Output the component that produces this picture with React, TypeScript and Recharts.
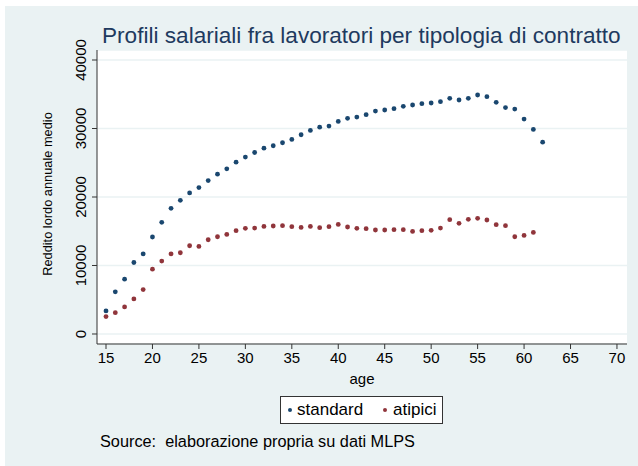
import {ScatterChart, Scatter, XAxis, YAxis, CartesianGrid, Label} from 'recharts';

const standardAges = [15, 16, 17, 18, 19, 20, 21, 22, 23, 24, 25, 26, 27, 28, 29, 30, 31, 32, 33, 34, 35, 36, 37, 38, 39, 40, 41, 42, 43, 44, 45, 46, 47, 48, 49, 50, 51, 52, 53, 54, 55, 56, 57, 58, 59, 60, 61, 62];
const standardIncome = [3370, 6150, 8000, 10440, 11700, 14160, 16300, 18350, 19520, 20600, 21380, 22400, 23330, 24110, 25090, 25830, 26500, 27130, 27480, 27920, 28400, 29090, 29720, 30200, 30350, 31040, 31480, 31670, 32020, 32550, 32700, 32900, 33240, 33430, 33630, 33720, 33920, 34410, 34160, 34410, 34890, 34650, 33820, 33050, 32840, 31380, 29870, 28010];

const atipiciAges = [15, 16, 17, 18, 19, 20, 21, 22, 23, 24, 25, 26, 27, 28, 29, 30, 31, 32, 33, 34, 35, 36, 37, 38, 39, 40, 41, 42, 43, 44, 45, 46, 47, 48, 49, 50, 51, 52, 53, 54, 55, 56, 57, 58, 59, 60, 61];
const atipiciIncome = [2540, 3120, 3950, 5120, 6490, 9470, 10640, 11710, 11860, 12880, 12780, 13760, 14200, 14540, 15080, 15420, 15470, 15710, 15770, 15810, 15670, 15560, 15710, 15520, 15670, 16000, 15620, 15420, 15370, 15180, 15180, 15230, 15230, 14980, 15080, 15130, 15470, 16690, 16150, 16740, 16890, 16640, 15960, 15810, 14200, 14390, 14830];

const xTicks = [15, 20, 25, 30, 35, 40, 45, 50, 55, 60, 65, 70];
const yTicks = [0, 10000, 20000, 30000, 40000];

const standardData = standardAges.map((age, i) => ({age, income: standardIncome[i]}));
const atipiciData = atipiciAges.map((age, i) => ({age, income: atipiciIncome[i]}));

const FONT = '"Liberation Sans", Arial, sans-serif';
const BG = '#eaf2f3';
const BLUE = '#1a476f';
const RED = '#90353b';

const Dot = (color: string) => (props: any) => (
    <circle cx={props.cx} cy={props.cy} r={2.4} fill={color}/>
);

const YTick = (props: any) => {
    const {y, payload} = props;
    const x = 86;
    return (
        <text x={x} y={y} transform={`rotate(-90, ${x}, ${y})`} textAnchor="middle"
              fontSize={15} fontFamily={FONT} fill="#000">
            {payload.value}
        </text>
    );
};

export default function App() {
    return (
        <div style={{position: 'absolute', left: 0, top: 0, width: 638, height: 466, background: '#fff', fontFamily: FONT}}>
            <div style={{position: 'absolute', left: 5, top: 6, width: 633, height: 460, background: BG}}/>
            <div style={{position: 'absolute', left: 0, top: 0}}>
                <ScatterChart width={638} height={466} margin={{top: 50, right: 11, bottom: 92, left: 37}}>
                    <CartesianGrid horizontal vertical={false} fill="#fff" stroke={BG} strokeWidth={1.5}/>
                    <XAxis type="number" dataKey="age" domain={[14.03, 71.08]} ticks={xTicks} height={30}
                           allowDataOverflow tick={{fontSize: 15, fill: '#000', fontFamily: FONT}}
                           tickSize={5} tickMargin={3} stroke="#333" interval={0}>
                        <Label value="age" position="insideBottom" offset={-10} fontSize={15} fill="#000" fontFamily={FONT}/>
                    </XAxis>
                    <YAxis type="number" dataKey="income" domain={[-1460, 41460]} ticks={yTicks} width={60}
                           allowDataOverflow tick={<YTick/>} tickSize={5} stroke="#333" interval={0}/>
                    <Scatter data={standardData} fill={BLUE} shape={Dot(BLUE)} isAnimationActive={false}/>
                    <Scatter data={atipiciData} fill={RED} shape={Dot(RED)} isAnimationActive={false}/>
                </ScatterChart>
            </div>
            <div style={{position: 'absolute', left: 102, top: 25, whiteSpace: 'nowrap', fontSize: 22.6, color: '#1e3a5f', lineHeight: 1}}>
                Profili salariali fra lavoratori per tipologia di contratto
            </div>
            <div style={{position: 'absolute', left: 47, top: 194, width: 0, height: 0}}>
                <div style={{position: 'absolute', transform: 'translate(-50%, -50%) rotate(-90deg)', whiteSpace: 'nowrap', fontSize: 12.8, color: '#000'}}>
                    Reddito lordo annuale medio
                </div>
            </div>
            <div style={{position: 'absolute', left: 280, top: 396, width: 161, height: 26, border: '1px solid #333', background: '#fff',
                fontSize: 17, color: '#000', boxSizing: 'content-box'}}>
                <span style={{position: 'absolute', left: 7, top: 11, width: 4, height: 4, borderRadius: 2, background: BLUE}}/>
                <span style={{position: 'absolute', left: 16, top: 3, lineHeight: '20px'}}>standard</span>
                <span style={{position: 'absolute', left: 102, top: 11, width: 4, height: 4, borderRadius: 2, background: RED}}/>
                <span style={{position: 'absolute', left: 112, top: 3, lineHeight: '20px'}}>atipici</span>
            </div>
            <div style={{position: 'absolute', left: 100, top: 432, fontSize: 16.3, lineHeight: '18px', color: '#000', whiteSpace: 'pre'}}>
                {'Source:  elaborazione propria su dati MLPS'}
            </div>
        </div>
    );
}
